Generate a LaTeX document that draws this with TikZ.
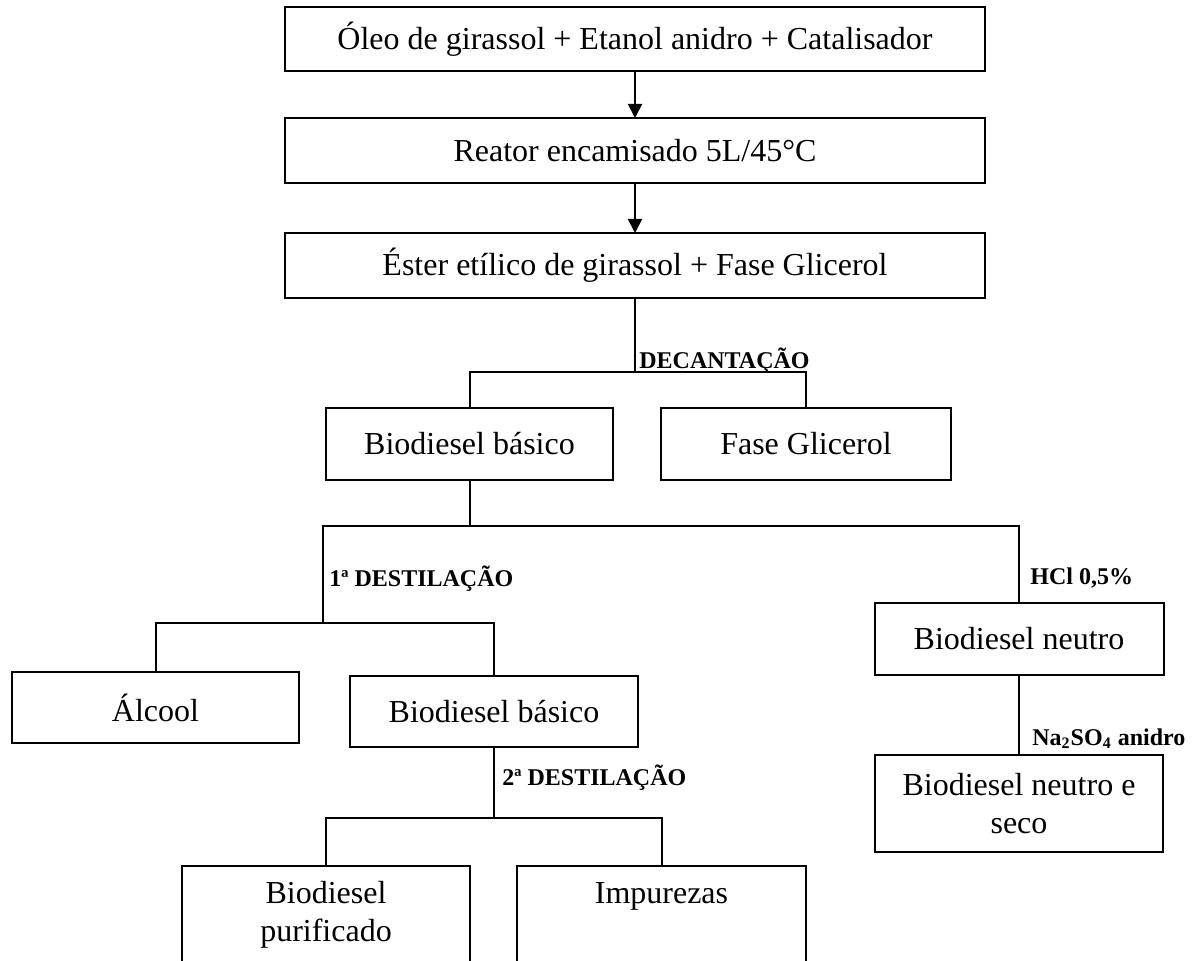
\documentclass[tikz,border=0pt]{standalone}
\usepackage{fontspec}
\setmainfont{Liberation Serif}
\usetikzlibrary{arrows.meta, positioning}

\newcommand{\boxfont}{\fontsize{16}{19}\selectfont}
\newcommand{\notefont}{\fontsize{12}{14}\selectfont\bfseries}

\begin{document}
\begin{tikzpicture}[
    x=0.5pt, y=-0.5pt,
    stage/.style={
            draw,
            rectangle,
            line width=1pt,
            inner sep=0pt,
            outer sep=0pt,
            align=center,
            font=\boxfont
        },
    note/.style={font=\notefont, inner sep=0pt, anchor=base west},
    link/.style={line width=1pt},
    arrow/.style={line width=1pt, -{Triangle[length=7pt, width=7pt]}}
    ]

    \path[use as bounding box, fill=white] (0,0) rectangle (1204,961);

    % --- Reaction ---
    \node[stage, minimum width=350pt, minimum height=32pt] (oleo) at (635,39) {Óleo de girassol + Etanol anidro + Catalisador};
    \node[stage, minimum width=350pt, minimum height=32.5pt] (reator) at (635,150.5) {Reator encamisado 5L/45°C};
    \node[stage, minimum width=350pt, minimum height=32.5pt] (ester) at (635,265.5) {Éster etílico de girassol + Fase Glicerol};

    % --- Decantation ---
    \node[stage, minimum width=143.5pt, minimum height=36pt] (basico) at (469.5,444) {Biodiesel básico};
    \node[stage, minimum width=145pt, minimum height=36pt] (glicerol) at (806,444) {Fase Glicerol};

    % --- 1st distillation / neutralisation ---
    \node[stage, minimum width=143.5pt, minimum height=35.5pt] (alcool) at (155.5,707.5) {Álcool};
    \node[stage, minimum width=144pt, minimum height=35.5pt] (basico_dest) at (494,711.5) {Biodiesel básico};
    \node[stage, minimum width=144.5pt, minimum height=36pt] (neutro) at (1019,639) {Biodiesel neutro};
    \node[stage, minimum width=144pt, minimum height=48.5pt] (seco) at (1019,803.5) {Biodiesel neutro e\\seco};

    % --- 2nd distillation ---
    \node[stage, minimum width=144pt, minimum height=49pt] (purificado) at (326,915) {Biodiesel\\purificado};
    \node[stage, minimum width=144.5pt, minimum height=49pt] (impurezas) at (661.5,915) {Impurezas\\\phantom{p}};

    % --- Junctions ---
    \coordinate (decant) at (635,372);
    \coordinate (split) at (469.5,526);
    \coordinate (dest1) at (323,623);
    \coordinate (dest2) at (494,818);

    % --- Arrows and lines ---
    \draw[arrow] (oleo) -- (reator);
    \draw[arrow] (reator) -- (ester);
    \draw[link] (ester) -- (decant);
    \draw[link] (basico.north) |- (decant) -| (glicerol.north);
    \draw[link] (basico) -- (split);
    \draw[link] (dest1) |- (split) -| (neutro.north);
    \draw[link] (alcool.north) |- (dest1) -| (basico_dest.north);
    \draw[link] (neutro) -- (seco);
    \draw[link] (basico_dest) -- (dest2);
    \draw[link] (purificado.north) |- (dest2) -| (impurezas.north);

    % --- Step labels ---
    \node[note] (decantacao) at (639,369) {DECANTAÇÃO};
    \node[note] (destilacao1) at (329,587) {1ª DESTILAÇÃO};
    \node[note] (hcl) at (1030,585) {HCl 0,5\%};
    \node[note] (sulfato) at (1032,745) {Na\textsubscript{2}SO\textsubscript{4} anidro};
    \node[note] (destilacao2) at (502,785) {2ª DESTILAÇÃO};

\end{tikzpicture}
\end{document}
